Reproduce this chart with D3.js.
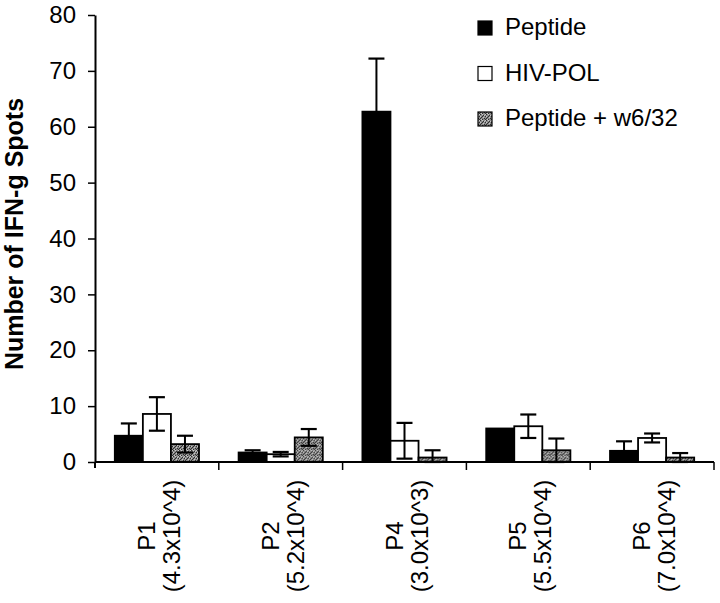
<!DOCTYPE html>
<html>
<head>
<meta charset="utf-8">
<script src="https://cdn.jsdelivr.net/npm/d3@7/dist/d3.min.js"></script>
<style>
  html, body { margin: 0; padding: 0; background: #fff; }
  svg { display: block; font-family: "Liberation Sans", Arial, sans-serif; }
</style>
</head>
<body>
<svg id="chart" width="720" height="603"></svg>
<script>
// ---- data ----
const categories = ["P1", "P2", "P4", "P5", "P6"];
const categorySub = ["(4.3x10^4)", "(5.2x10^4)", "(3.0x10^3)", "(5.5x10^4)", "(7.0x10^4)"];
const seriesNames = ["Peptide", "HIV-POL", "Peptide + w6/32"];
const peptideValues = [4.7, 1.7, 62.7, 6.0, 2.0];
const peptideErrors = [2.2, 0.4, 9.5, 0.0, 1.7];
const hivPolValues = [8.6, 1.4, 3.8, 6.4, 4.3];
const hivPolErrors = [3.0, 0.4, 3.2, 2.1, 0.8];
const w632Values = [3.2, 4.4, 0.8, 2.1, 0.8];
const w632Errors = [1.5, 1.5, 1.3, 2.1, 0.8];
const yTicks = [0, 10, 20, 30, 40, 50, 60, 70, 80];
const yTitle = "Number of IFN-g Spots";

const seriesValues = [peptideValues, hivPolValues, w632Values];
const seriesErrors = [peptideErrors, hivPolErrors, w632Errors];

(function () {
const svg = d3.select("#chart");
const mLeft = 95, mRight = 714, mTop = 15, mBottom = 462;

// texture pattern for the stippled gray series
const defs = svg.append("defs");
const pat = defs.append("pattern").attr("id", "stipple")
  .attr("patternUnits", "userSpaceOnUse").attr("width", 6).attr("height", 6);
pat.append("rect").attr("width", 6).attr("height", 6).attr("fill", "#8a8a8a");
const dark = [[0,0],[3,1],[1,3],[4,4],[2,5],[5,2],[0,4],[5,5],[2,2]];
const light = [[2,0],[5,0],[0,2],[3,3],[1,5],[4,1]];
dark.forEach(([px, py]) => pat.append("rect").attr("x", px).attr("y", py).attr("width", 1).attr("height", 1).attr("fill", "#2e2e2e"));
light.forEach(([px, py]) => pat.append("rect").attr("x", px).attr("y", py).attr("width", 1).attr("height", 1).attr("fill", "#c8c8c8"));

const fills = ["#000", "#fff", "url(#stipple)"];

const x0 = d3.scaleBand().domain(categories).range([mLeft, mRight]).padding(0);
const x1 = d3.scaleBand().domain(seriesNames)
  .range([x0.bandwidth() * 0.16, x0.bandwidth() * 0.84]).padding(0);
const y = d3.scaleLinear().domain([0, 80]).range([mBottom, mTop]);

// bars
const groups = svg.append("g").selectAll("g").data(categories).join("g")
  .attr("transform", d => `translate(${x0(d)},0)`);

groups.each(function(cat, ci) {
  const g = d3.select(this);
  seriesNames.forEach((s, si) => {
    const v = seriesValues[si][ci];
    const e = seriesErrors[si][ci];
    const bx = x1(s), bw = x1.bandwidth();
    g.append("rect")
      .attr("x", bx).attr("y", y(v))
      .attr("width", bw).attr("height", y(0) - y(v))
      .attr("fill", fills[si]).attr("stroke", "#000").attr("stroke-width", 1.8);
    if (e > 0) {
      const cx = bx + bw / 2, cap = 8;
      const lo = Math.max(0, v - e), hi = v + e;
      g.append("line").attr("x1", cx).attr("x2", cx).attr("y1", y(lo)).attr("y2", y(hi))
        .attr("stroke", "#000").attr("stroke-width", 2);
      [lo, hi].forEach(val => {
        g.append("line").attr("x1", cx - cap).attr("x2", cx + cap)
          .attr("y1", y(val)).attr("y2", y(val))
          .attr("stroke", "#000").attr("stroke-width", 2.2);
      });
    }
  });
});

// y axis
const yAxis = svg.append("g").attr("transform", `translate(${mLeft},0)`)
  .call(d3.axisLeft(y).tickValues(yTicks).tickSize(7).tickPadding(12).tickSizeOuter(0));
yAxis.select(".domain").attr("stroke", "#000").attr("stroke-width", 2);
yAxis.selectAll(".tick line").attr("stroke", "#000").attr("stroke-width", 1.5);
yAxis.selectAll(".tick text").attr("font-size", 24).attr("fill", "#000")
  .attr("font-family", "Liberation Sans, Arial, sans-serif");
svg.append("line").attr("x1", mLeft).attr("x2", mLeft).attr("y1", mBottom).attr("y2", mBottom + 6)
  .attr("stroke", "#000").attr("stroke-width", 2);

// x axis baseline + category boundary ticks
svg.append("line").attr("x1", mLeft).attr("x2", mRight).attr("y1", y(0)).attr("y2", y(0))
  .attr("stroke", "#000").attr("stroke-width", 2);
const boundaries = categories.slice(1).map(c => x0(c)).concat([x0.range()[1]]);
svg.append("g").selectAll("line").data(boundaries).join("line")
  .attr("x1", d => d).attr("x2", d => d).attr("y1", y(0)).attr("y2", y(0) + 8)
  .attr("stroke", "#000").attr("stroke-width", 1.5);

// category labels (rotated, two lines)
const labY = 536;
categories.forEach((c, i) => {
  const cx = x0(c) + x0.bandwidth() / 2;
  svg.append("text").attr("transform", `translate(${cx - 2},${labY}) rotate(-90)`)
    .attr("text-anchor", "middle").attr("font-size", 24).text(c);
  svg.append("text").attr("transform", `translate(${cx + 23},${labY}) rotate(-90)`)
    .attr("text-anchor", "middle").attr("font-size", 24).text(categorySub[i]);
});

// y title
svg.append("text").attr("transform", `translate(23,234) rotate(-90)`)
  .attr("text-anchor", "middle").attr("font-size", 25).attr("font-weight", "bold")
  .text(yTitle);

// legend
const legend = svg.append("g");
seriesNames.forEach((s, i) => {
  const by = 35 + i * 45.5;
  legend.append("rect").attr("x", 478).attr("y", by - 14).attr("width", 14).attr("height", 14)
    .attr("fill", fills[i]).attr("stroke", "#000").attr("stroke-width", 1.2);
  legend.append("text").attr("x", 505).attr("y", by).attr("font-size", 24).text(s);
});
})();
</script>
</body>
</html>
